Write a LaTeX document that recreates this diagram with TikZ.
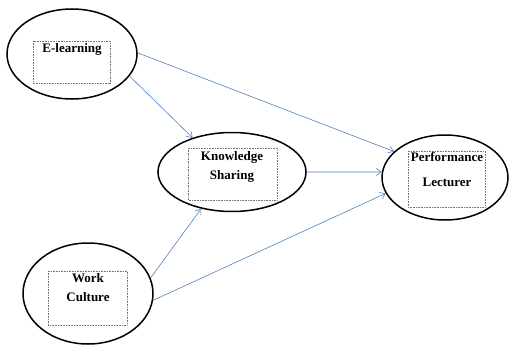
\documentclass[tikz,border=0pt]{standalone}
\usepackage{fontspec}
\setmainfont{Liberation Serif}
\usetikzlibrary{shapes.geometric,arrows.meta}
\definecolor{connblue}{RGB}{79,129,189}
\begin{document}
\begin{tikzpicture}[x=1pt,y=-1pt,
  ell/.style={draw, ellipse, line width=1.5pt, inner sep=0pt},
  dbox/.style={draw=black!55, dash pattern=on 0.7pt off 0.9pt, line width=0.7pt},
  lbl/.style={font=\fontsize{13}{19}\selectfont\bfseries, align=center, inner sep=0pt},
  conn/.style={draw=connblue, line width=0.6pt, -{Straight Barb[length=5pt,width=7pt]}}]
\useasboundingbox (0,0) rectangle (509,345);
% ellipses
\node[ell, minimum width=130pt, minimum height=90pt] (el) at (72,54) {};
\node[ell, minimum width=148pt, minimum height=79pt] (ks) at (232,172) {};
\node[ell, minimum width=126pt, minimum height=85pt] (pl) at (445,177.5) {};
\node[ell, minimum width=130pt, minimum height=101pt] (wc) at (88,293.5) {};
% dotted boxes
\draw[dbox] (33,41) rectangle (110,83);
\draw[dbox] (188,148) rectangle (277,200);
\draw[dbox] (408,151) rectangle (485,207);
\draw[dbox] (48,271) rectangle (127,325);
% labels
\node[lbl] (tel) at (72,49) {E-learning};
\node[lbl] (tks) at (232,167) {Knowledge\\Sharing};
\node[lbl] (tpl) at (447,170) {Performance\\[6pt]Lecturer};
\node[lbl] (twc) at (88,288) {Work\\Culture};
% connectors
\draw[conn] (el.1) -- (pl.153);
\draw[conn] (el.-21) -- (ks.139);
\draw[conn] (ks.0) -- (pl.175);
\draw[conn] (wc.14) -- (ks.-130);
\draw[conn] (wc.-6) -- (pl.-165);
\end{tikzpicture}
\end{document}
